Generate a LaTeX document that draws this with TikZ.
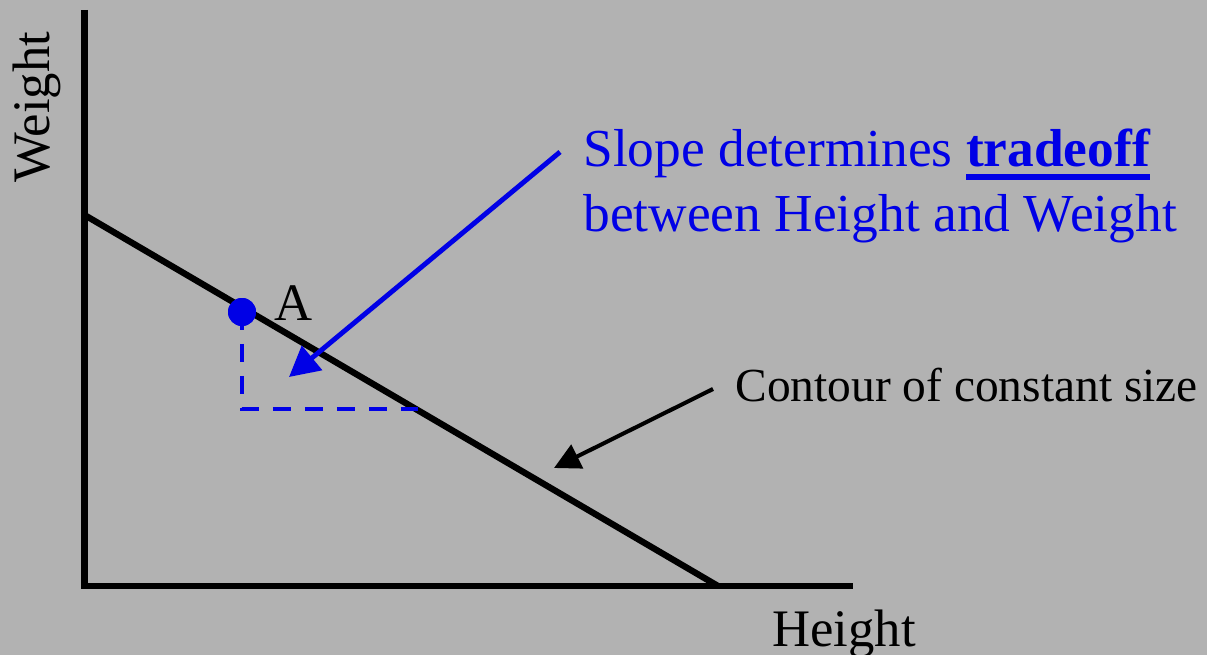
\documentclass[tikz,border=0pt]{standalone}
\usepackage{fontspec}
\newfontfamily\timesfont{Liberation Serif}
\usetikzlibrary{arrows.meta}
\definecolor{bggray}{RGB}{178,178,178}
\definecolor{myblue}{RGB}{0,0,230}
\newcommand{\myul}[1]{\setbox0\hbox{#1}\rlap{\raisebox{-0.24em}{\rule{\wd0}{0.1em}}}\box0}
\begin{document}
\begin{tikzpicture}[x=0.02cm,y=-0.02cm,
  axisline/.style={line width=3.8pt,black},
  contourline/.style={line width=3.6pt,black},
  bluearrow/.style={line width=2.8pt,myblue,-{Triangle[length=0.6cm,width=0.62cm]}},
  blackarrow/.style={line width=2.3pt,black,-{Triangle[length=0.52cm,width=0.52cm]}},
  dashline/.style={line width=2.8pt,myblue,dash pattern=on 0.36cm off 0.28cm},
  lmlabel/.style={inner sep=0pt,font=\timesfont\fontsize{30pt}{34pt}\selectfont},
  bluetext/.style={inner sep=0pt,anchor=base west,text=myblue,font=\timesfont\fontsize{30.4pt}{34pt}\selectfont},
  blacktext/.style={inner sep=0pt,anchor=base west,font=\timesfont\fontsize{27pt}{30pt}\selectfont}]
\fill[bggray] (0,0) rectangle (1207,655);
\useasboundingbox (0,0) rectangle (1207,655);
% axes
\coordinate (ytop) at (84.5,10);
\coordinate (origin) at (84.5,586);
\coordinate (xend) at (853,586);
\draw[axisline,line join=miter] (ytop) -- (origin) -- (xend);
% contour line
\coordinate (cstart) at (84.5,215);
\coordinate (cend) at (718,586);
\draw[contourline] (cstart) -- (cend);
% dashed triangle
\coordinate (dcorner) at (242,409);
\coordinate (dend) at (418,409);
\node[circle,fill=myblue,minimum size=0.56cm,inner sep=0pt] (ptA) at (242,312) {};
\draw[dashline] (ptA.center) -- (dcorner) -- (dend);
\node[circle,fill=myblue,minimum size=0.56cm,inner sep=0pt] at (242,312) {};
\node[lmlabel,anchor=base west] (labA) at (274,320) {A};
% axis labels
\node[lmlabel,anchor=base west,rotate=90] (wlab) at (50,183) {Weight};
\node[lmlabel,anchor=base west] (hlab) at (772,646) {Height};
% blue annotation
\node[bluetext] (slope1) at (583,167) {Slope determines \myul{\textbf{tradeoff}}};
\node[bluetext] (slope2) at (583,232) {between Height and Weight};
\coordinate (bstart) at (560,152);
\coordinate (btip) at (289,377);
\draw[bluearrow] (bstart) -- (btip);
% black annotation
\node[blacktext] (contour) at (735,401) {Contour of constant size};
\coordinate (kstart) at (713,389);
\coordinate (ktip) at (554,468);
\draw[blackarrow] (kstart) -- (ktip);
\end{tikzpicture}
\end{document}
